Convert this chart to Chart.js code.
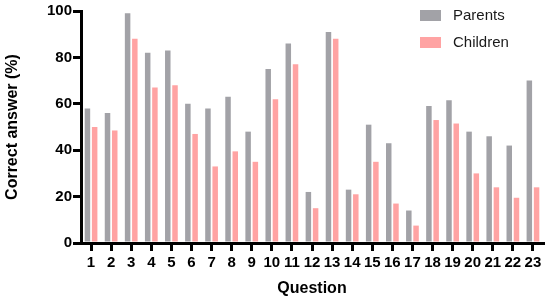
<!DOCTYPE html>
<html>
<head>
<meta charset="utf-8">
<script src="https://cdn.jsdelivr.net/npm/chart.js@4.4.0/dist/chart.umd.min.js"></script>
<style>
  html, body { margin: 0; padding: 0; background: #fff; }
  #wrap { width: 550px; height: 298px; }
</style>
</head>
<body>
<div id="wrap"><canvas id="myBarChart" width="550" height="298"></canvas></div>
<script>
// data
var questions = ["1","2","3","4","5","6","7","8","9","10","11","12","13","14","15","16","17","18","19","20","21","22","23"];
var parents = [58, 56, 99, 82, 83, 60, 58, 63, 48, 75, 86, 22, 91, 23, 51, 43, 14, 59, 61.5, 48, 46, 42, 70];
var children = [50, 48.5, 88, 67, 68, 47, 33, 39.5, 35, 62, 77, 15, 88, 21, 35, 17, 7.5, 53, 51.5, 30, 24, 19.5, 24];
var yTicks = [0, 20, 40, 60, 80, 100];

var fontName = "'Liberation Sans', Arial, Helvetica, sans-serif";

// legend drawn inside the plot, top right
var boxLegend = {
  id: "boxLegend",
  afterDraw: function (chart) {
    var c = chart.ctx;
    c.save();
    c.font = "15px " + fontName;
    c.textBaseline = "middle";
    chart.data.datasets.forEach(function (ds, i) {
      var y = 10 + i * 27;
      c.fillStyle = ds.backgroundColor;
      c.fillRect(420, y, 21, 11);
      c.fillStyle = "#1a1a1a";
      c.fillText(ds.label, 453, y + 6);
    });
    c.restore();
  },
};

var ctx = document.getElementById("myBarChart").getContext("2d");
var myBarChart = new Chart(ctx, {
  type: "bar",
  data: {
    labels: questions,
    datasets: [
      {
        label: "Parents",
        data: parents,
        backgroundColor: "#a2a2a7",
        categoryPercentage: 0.72,
        barPercentage: 0.76,
      },
      {
        label: "Children",
        data: children,
        backgroundColor: "#ffa3a3",
        categoryPercentage: 0.72,
        barPercentage: 0.76,
      },
    ],
  },
  options: {
    responsive: false,
    animation: false,
    layout: { padding: { left: 0, right: 7, top: 11, bottom: 0 } },
    plugins: {
      legend: { display: false },
      tooltip: { enabled: false },
    },
    scales: {
      x: {
        grid: { drawOnChartArea: false, offset: false, color: "#000", lineWidth: 3, tickLength: 8 },
        border: { display: true, color: "#000", width: 3 },
        ticks: {
          color: "#000",
          font: { family: fontName, size: 15, weight: "bold" },
          padding: 3,
          maxRotation: 0,
          autoSkip: false,
        },
        title: {
          display: true,
          text: "Question",
          color: "#000",
          font: { family: fontName, size: 16, weight: "bold" },
          padding: { top: 0, bottom: 0 },
        },
        afterFit: function (scale) {
          scale.height = 55;
        },
      },
      y: {
        min: 0,
        max: 100,
        grid: { drawOnChartArea: false, color: "#000", lineWidth: 3, tickLength: 8 },
        border: { display: true, color: "#000", width: 3 },
        afterBuildTicks: function (scale) {
          scale.ticks = yTicks.map(function (v) { return { value: v }; });
        },
        ticks: {
          color: "#000",
          font: { family: fontName, size: 15, weight: "bold" },
          padding: 1,
        },
        title: {
          display: true,
          text: "Correct answer (%)",
          color: "#000",
          font: { family: fontName, size: 16, weight: "bold" },
          padding: { top: 3, bottom: 0 },
        },
        afterFit: function (scale) {
          scale.width = 81;
        },
      },
    },
  },
  plugins: [boxLegend],
});
</script>
</body>
</html>
